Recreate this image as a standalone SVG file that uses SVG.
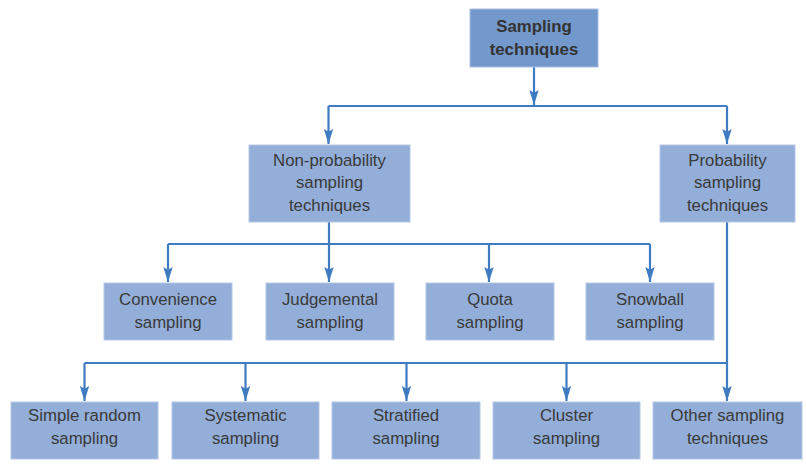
<svg xmlns="http://www.w3.org/2000/svg" width="806" height="470" viewBox="0 0 806 470">
<style>
.box{fill:#93aed8;stroke:#b3c7e6;stroke-width:1}
.root{fill:#7398cc;stroke:#a9bfe2;stroke-width:1}
text{font-family:"Liberation Sans",Arial,sans-serif;font-size:16.8px;fill:#3a3a3a;text-anchor:middle}
.bold{font-weight:bold;fill:#333}
.conn{fill:none;stroke:#3e7bc1;stroke-width:2.2}
</style>
<defs>
<marker id="ah" viewBox="0 0 16 10" refX="16" refY="5" markerWidth="15" markerHeight="10" markerUnits="userSpaceOnUse" orient="auto">
<path d="M0,0 L16,5 L0,10 L3,5 Z" fill="#3e7bc1"/>
</marker>
</defs>
<g id="connectors" class="conn">
<path d="M534,67 V105" marker-end="url(#ah)"/>
<path d="M328.5,106 H727"/>
<path d="M328.5,106 V144" marker-end="url(#ah)"/>
<path d="M727,106 V144" marker-end="url(#ah)"/>
<path d="M329,222 V244"/>
<path d="M168,244 H650"/>
<path d="M168,244 V282" marker-end="url(#ah)"/>
<path d="M329,244 V282" marker-end="url(#ah)"/>
<path d="M489,244 V282" marker-end="url(#ah)"/>
<path d="M650,244 V282" marker-end="url(#ah)"/>
<path d="M727,222 V401" marker-end="url(#ah)"/>
<path d="M84.5,363 H727"/>
<path d="M84.5,363 V401" marker-end="url(#ah)"/>
<path d="M245.5,363 V401" marker-end="url(#ah)"/>
<path d="M406.5,363 V401" marker-end="url(#ah)"/>
<path d="M566.5,363 V401" marker-end="url(#ah)"/>
</g>
<g id="root">
<rect class="root" x="470" y="9" width="128" height="58"/>
<text class="bold" x="534" y="32">Sampling</text>
<text class="bold" x="534" y="54.5">techniques</text>
</g>
<g id="nonprob">
<rect class="box" x="249" y="145" width="161" height="77"/>
<text x="329.5" y="165.5">Non-probability</text>
<text x="329.5" y="188">sampling</text>
<text x="329.5" y="210.5">techniques</text>
</g>
<g id="prob">
<rect class="box" x="660" y="145" width="135" height="77"/>
<text x="727.5" y="165.5">Probability</text>
<text x="727.5" y="188">sampling</text>
<text x="727.5" y="210.5">techniques</text>
</g>
<g id="convenience">
<rect class="box" x="104" y="283" width="128" height="57"/>
<text x="168" y="305">Convenience</text>
<text x="168" y="327.5">sampling</text>
</g>
<g id="judgemental">
<rect class="box" x="266" y="283" width="128" height="57"/>
<text x="330" y="305">Judgemental</text>
<text x="330" y="327.5">sampling</text>
</g>
<g id="quota">
<rect class="box" x="426" y="283" width="128" height="57"/>
<text x="490" y="305">Quota</text>
<text x="490" y="327.5">sampling</text>
</g>
<g id="snowball">
<rect class="box" x="586" y="283" width="128" height="57"/>
<text x="650" y="305">Snowball</text>
<text x="650" y="327.5">sampling</text>
</g>
<g id="simple">
<rect class="box" x="11" y="402" width="147" height="57"/>
<text x="84.5" y="421">Simple random</text>
<text x="84.5" y="443.5">sampling</text>
</g>
<g id="systematic">
<rect class="box" x="172" y="402" width="147" height="57"/>
<text x="245.5" y="421">Systematic</text>
<text x="245.5" y="443.5">sampling</text>
</g>
<g id="stratified">
<rect class="box" x="332" y="402" width="148" height="57"/>
<text x="406" y="421">Stratified</text>
<text x="406" y="443.5">sampling</text>
</g>
<g id="cluster">
<rect class="box" x="493" y="402" width="147" height="57"/>
<text x="566.5" y="421">Cluster</text>
<text x="566.5" y="443.5">sampling</text>
</g>
<g id="other">
<rect class="box" x="653" y="402" width="149" height="57"/>
<text x="727.5" y="421">Other sampling</text>
<text x="727.5" y="443.5">techniques</text>
</g>
</svg>
